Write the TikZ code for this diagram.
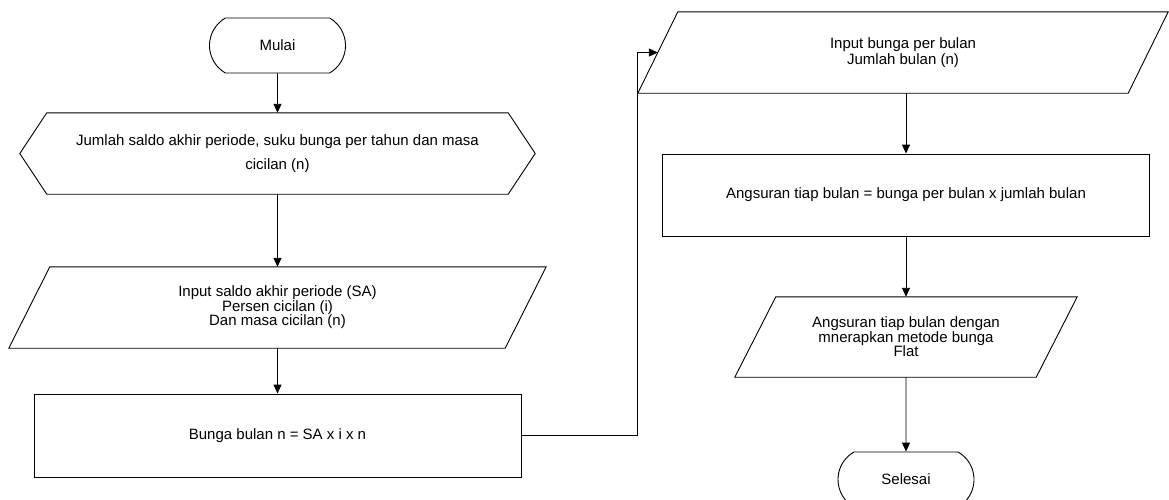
\documentclass[tikz,border=0pt]{standalone}
\usepackage{fontspec}
\setmainfont{Liberation Sans}
\usetikzlibrary{arrows.meta,shapes.misc,calc}
\begin{document}
\begin{tikzpicture}[x=1pt,y=-1pt,
  box/.style={draw=none,inner sep=0pt,align=center,font=\fontsize{15}{14.5}\selectfont},
  term/.style={box,draw,line width=0.9pt,rounded rectangle,rounded rectangle arc length=120,minimum width=136pt,minimum height=55pt},
  procbox/.style={box,draw,line width=0.9pt},
  outline/.style={draw,line width=0.9pt,line join=miter},
  arr/.style={draw,line width=0.9pt,-{Triangle[length=9pt,width=8pt]}}]
\useasboundingbox (0,0) rectangle (1169,499);

% left column
\node[term] (mulai) at (277.5,45.5) {Mulai};

\node[box,minimum width=515pt,minimum height=81pt] (prep) at (277.5,153.5)
  {Jumlah saldo akhir periode, suku bunga per tahun dan masa\\[9pt]cicilan (n)};
\draw[outline] (prep.west) -- ([xshift=27pt]prep.north west) -- ([xshift=-27pt]prep.north east)
  -- (prep.east) -- ([xshift=-27pt]prep.south east) -- ([xshift=27pt]prep.south west) -- cycle;

\node[box,minimum width=537pt,minimum height=81pt] (in1) at (277.5,307.5)
  {Input saldo akhir periode (SA)\\Persen cicilan (i)\\Dan masa cicilan (n)};
\draw[outline] ([xshift=41pt]in1.north west) -- (in1.north east)
  -- ([xshift=-41pt]in1.south east) -- (in1.south west) -- cycle;

\node[procbox,minimum width=487pt,minimum height=83pt] (proc1) at (277.5,435.5)
  {Bunga bulan n = SA x i x n};

% right column
\node[box,minimum width=530pt,minimum height=81pt] (in2) at (903,52.5)
  {Input bunga per bulan\\[1.5pt]Jumlah bulan (n)};
\draw[outline] ([xshift=40pt]in2.north west) -- (in2.north east)
  -- ([xshift=-40pt]in2.south east) -- (in2.south west) -- cycle;
\coordinate (in2left) at ($(in2.south west)!0.5!([xshift=40pt]in2.north west)$);

\node[procbox,minimum width=487pt,minimum height=82pt] (proc2) at (906,195)
  {Angsuran tiap bulan = bunga per bulan x jumlah bulan};

\node[box,minimum width=342pt,minimum height=80pt] (out) at (906,337)
  {Angsuran tiap bulan dengan\\mnerapkan metode bunga\\Flat};
\draw[outline] ([xshift=41pt]out.north west) -- (out.north east)
  -- ([xshift=-41pt]out.south east) -- (out.south west) -- cycle;

\node[term] (selesai) at (906,479.5) {Selesai};

% connectors
\draw[arr] (mulai) -- (prep);
\draw[arr] (prep) -- (in1);
\draw[arr] (in1) -- (proc1);
\draw[arr] (proc1.east) -- (proc1.east -| in2.south west) |- (in2left);
\draw[arr] (in2.south -| proc2.north) -- (proc2.north);
\draw[arr] (proc2) -- (out);
\draw[arr] (out) -- (selesai);
\end{tikzpicture}
\end{document}
